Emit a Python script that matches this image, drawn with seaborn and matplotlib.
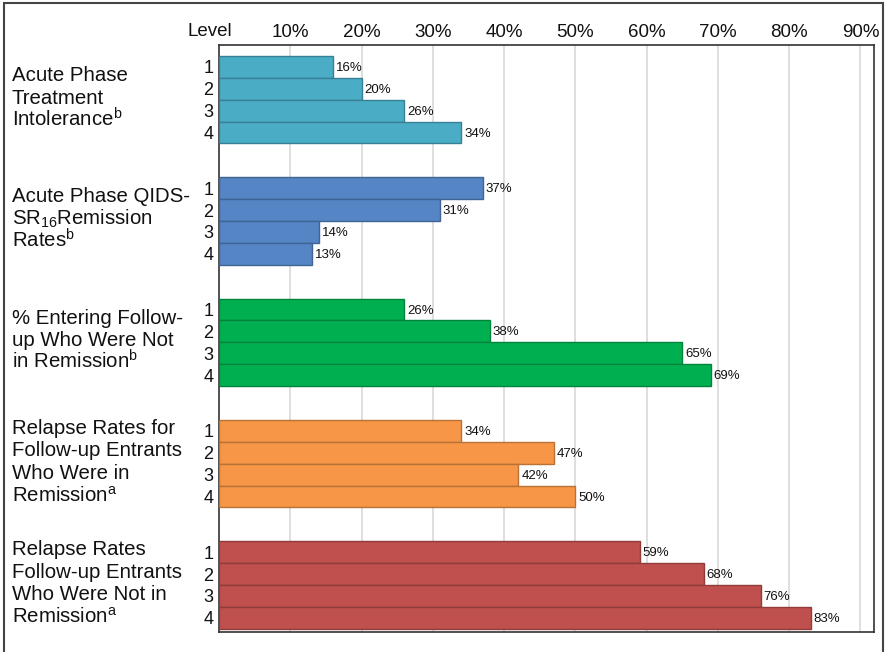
import matplotlib
matplotlib.use("Agg")
import matplotlib.pyplot as plt
import matplotlib.colors as mcolors
from matplotlib.patches import Rectangle
import seaborn as sns
import pandas as pd

sns.set_theme(style="white")
plt.rcParams["font.family"] = ["Liberation Sans", "DejaVu Sans"]
plt.rcParams["mathtext.fontset"] = "custom"
plt.rcParams["mathtext.rm"] = "Liberation Sans"
plt.rcParams["mathtext.it"] = "Liberation Sans:italic"
plt.rcParams["mathtext.bf"] = "Liberation Sans:bold"

# ---- data ----
group_labels = [
    ["Acute Phase", "Treatment", "Intolerance$^{\\mathrm{b}}$"],
    ["Acute Phase QIDS-", "SR$_{\\mathrm{16}}$Remission", "Rates$^{\\mathrm{b}}$"],
    ["% Entering Follow-", "up Who Were Not", "in Remission$^{\\mathrm{b}}$"],
    ["Relapse Rates for", "Follow-up Entrants", "Who Were in", "Remission$^{\\mathrm{a}}$"],
    ["Relapse Rates", "Follow-up Entrants", "Who Were Not in", "Remission$^{\\mathrm{a}}$"],
]
levels = ["1", "2", "3", "4"]
intolerance = [16, 20, 26, 34]
remission = [37, 31, 14, 13]
not_in_remission = [26, 38, 65, 69]
relapse_remitted = [34, 47, 42, 50]
relapse_not_remitted = [59, 68, 76, 83]
series = [intolerance, remission, not_in_remission, relapse_remitted, relapse_not_remitted]
colors = ["#4BACC6", "#5585C4", "#00B050", "#F79646", "#C0504D"]
xtick_values = [10, 20, 30, 40, 50, 60, 70, 80, 90]
xtick_labels = ["10%", "20%", "30%", "40%", "50%", "60%", "70%", "80%", "90%"]

# ---- build table ----
GROUP_STEP = 5.55
rows = []
for g, vals in enumerate(series):
    for i, v in enumerate(vals):
        rows.append({"group": g, "level": levels[i], "value": v, "pos": g * GROUP_STEP + i})
df = pd.DataFrame(rows)

W, H = 885, 652
fig = plt.figure(figsize=(W / 100, H / 100), dpi=100)
ax = fig.add_axes([219 / W, 1 - 632 / H, (874 - 219) / W, (632 - 45) / H])

sns.barplot(data=df, x="value", y="pos", hue="group", orient="y", native_scale=True,
            dodge=False, palette=colors, width=1.0, legend=False, ax=ax,
            saturation=1, linewidth=1.0, zorder=3)

for p in ax.patches:
    fc = mcolors.to_rgb(p.get_facecolor())
    p.set_edgecolor(tuple(c * 0.75 for c in fc))
    p.set_linewidth(1.0)

ax.set_xlim(0, 91.9)
ax.set_ylim(4 * GROUP_STEP + 3 + 0.65, -1.0)
ax.set_xlabel("")
ax.set_ylabel("")

ax.xaxis.tick_top()
ax.set_xticks(xtick_values)
ax.set_xticklabels(xtick_labels, fontsize=13.5)
ax.tick_params(axis="x", length=0, pad=3, colors="#111111")
ax.grid(axis="x", color="#dcdcdc", linewidth=1.3, zorder=0)
ax.set_axisbelow(True)

ax.set_yticks(df["pos"].tolist())
ax.set_yticklabels(df["level"].tolist(), fontsize=13)
ax.tick_params(axis="y", length=0, pad=4, colors="#111111")

for s in ax.spines.values():
    s.set_color("#333333")
    s.set_linewidth(1.2)

# value labels
for _, r in df.iterrows():
    ax.text(r["value"] + 0.4, r["pos"] + 0.05, f"{r['value']}%", fontsize=9.5,
            va="center", ha="left", color="#111111", zorder=4)

# group labels, one line at a time with fixed pixel spacing
trans = matplotlib.transforms.blended_transform_factory(fig.transFigure, ax.transData)
LINE_PX = 22.5
for g, lines in enumerate(group_labels):
    center = g * GROUP_STEP + 1.5
    n = len(lines)
    for k, line in enumerate(lines):
        base_px = -3 + (k - (n - 1) / 2) * LINE_PX + 7
        ax.annotate(line, xy=(12 / W, center), xycoords=trans,
                    xytext=(0, -base_px * 0.72), textcoords="offset points",
                    fontsize=14.7, ha="left", va="baseline", color="#111111",
                    annotation_clip=False)

fig.text(210 / W, 1 - 32 / H, "Level", ha="center", va="center", fontsize=13.5, color="#111111")

fig.patches.append(Rectangle((4 / W, -0.02), (883 - 4) / W, 1 - 3 / H + 0.02,
                             transform=fig.transFigure, fill=False,
                             edgecolor="#444444", linewidth=1.5))

fig.savefig("out.png", dpi=100, facecolor="white")
